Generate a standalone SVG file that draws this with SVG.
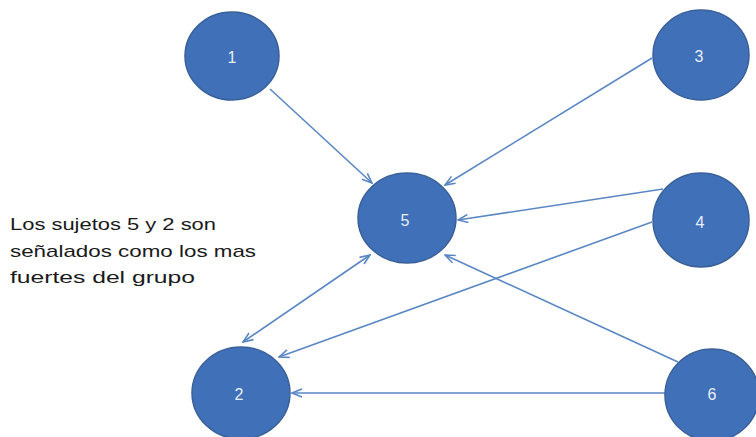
<svg xmlns="http://www.w3.org/2000/svg" width="756" height="437" viewBox="0 0 756 437">
<style>
.node{fill:#4070b8;stroke:#3a6099;stroke-width:1.5}
.lbl{font-family:"Liberation Sans",Arial,sans-serif;font-size:16px;fill:#e8eef8;text-anchor:middle;dominant-baseline:central}
.edge{stroke:#5a87c4;stroke-width:1.6;fill:none}
.note{font-family:"Liberation Sans",Arial,sans-serif;font-size:17px;fill:#1a1a1a}
</style>
<defs>
<marker id="ah" viewBox="0 0 12 10" refX="11" refY="5" markerWidth="12" markerHeight="10" markerUnits="userSpaceOnUse" orient="auto-start-reverse">
<path d="M1,1 L11,5 L1,9" fill="none" stroke="#5a87c4" stroke-width="1.6"/>
</marker>
</defs>
<rect width="756" height="437" fill="#ffffff"/>
<g id="connectors">
<line class="edge" x1="270" y1="89" x2="372" y2="183" marker-end="url(#ah)"/>
<line class="edge" x1="652" y1="58" x2="445" y2="185" marker-end="url(#ah)"/>
<line class="edge" x1="663" y1="189" x2="458" y2="220" marker-end="url(#ah)"/>
<line class="edge" x1="652" y1="222" x2="279" y2="357" marker-end="url(#ah)"/>
<line class="edge" x1="678" y1="362" x2="445" y2="255" marker-end="url(#ah)"/>
<line class="edge" x1="243" y1="342" x2="370" y2="255" marker-start="url(#ah)" marker-end="url(#ah)"/>
<line class="edge" x1="665" y1="393" x2="292" y2="393" marker-end="url(#ah)"/>
</g>
<g id="node1"><ellipse class="node" cx="232" cy="56" rx="47" ry="44"/><text class="lbl" x="232" y="57">1</text></g>
<g id="node3"><ellipse class="node" cx="701" cy="55" rx="48" ry="45"/><text class="lbl" x="699" y="56">3</text></g>
<g id="node5"><ellipse class="node" cx="407" cy="218" rx="49" ry="45"/><text class="lbl" x="405" y="220">5</text></g>
<g id="node4"><ellipse class="node" cx="701" cy="220" rx="48" ry="47"/><text class="lbl" x="700" y="222">4</text></g>
<g id="node2"><ellipse class="node" cx="241" cy="393" rx="49" ry="46"/><text class="lbl" x="239" y="394">2</text></g>
<g id="node6"><ellipse class="node" cx="712" cy="395" rx="47" ry="46"/><text class="lbl" x="712" y="394">6</text></g>
<g id="note">
<text class="note" x="10" y="230" textLength="206" lengthAdjust="spacingAndGlyphs">Los sujetos 5 y 2 son</text>
<text class="note" x="10" y="257" textLength="246" lengthAdjust="spacingAndGlyphs">señalados como los mas</text>
<text class="note" x="10" y="283" textLength="185" lengthAdjust="spacingAndGlyphs">fuertes del grupo</text>
</g>
</svg>
